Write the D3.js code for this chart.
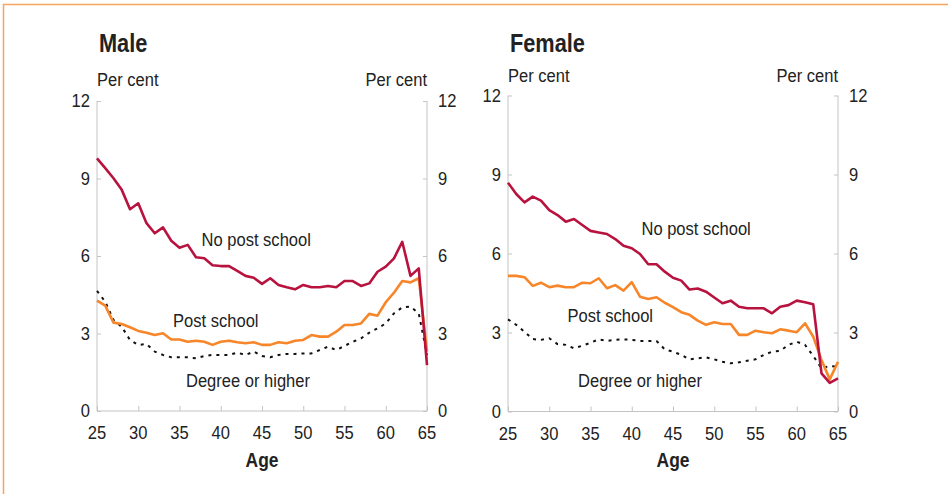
<!DOCTYPE html>
<html>
<head>
<meta charset="utf-8">
<script src="https://cdn.jsdelivr.net/npm/d3@7"></script>
<style>
  body { margin: 0; background: #fff; }
  svg text { font-family: "Liberation Sans", Arial, sans-serif; fill: #222; }
  .tick line, .domain { stroke: #c4c4c4; }
</style>
</head>
<body>
<div id="chart"></div>
<script>
// ages on the x axis
var ages = d3.range(25, 66);
var yTicks = [0, 3, 6, 9, 12];
var xTicks = [25, 30, 35, 40, 45, 50, 55, 60, 65];

// Male, per cent
var maleNoPost = [9.78, 9.40, 9.01, 8.56, 7.81, 8.04, 7.27, 6.88, 7.11, 6.59, 6.32, 6.43, 5.95, 5.91, 5.64,
  5.61, 5.61, 5.42, 5.23, 5.16, 4.92, 5.14, 4.88, 4.79, 4.71, 4.88, 4.79, 4.79, 4.84, 4.79,
  5.03, 5.03, 4.84, 4.94, 5.39, 5.59, 5.91, 6.55, 5.23, 5.52, 1.78];
var malePost = [4.27, 4.08, 3.42, 3.37, 3.24, 3.10, 3.03, 2.94, 3.01, 2.77, 2.77, 2.68, 2.72, 2.68, 2.56,
  2.68, 2.72, 2.66, 2.62, 2.66, 2.56, 2.56, 2.66, 2.62, 2.72, 2.75, 2.94, 2.88, 2.88, 3.07,
  3.33, 3.33, 3.39, 3.76, 3.69, 4.21, 4.58, 5.03, 4.98, 5.14, 2.30];
var maleDegree = [4.65, 4.23, 3.52, 3.26, 2.75, 2.56, 2.59, 2.30, 2.17, 2.08, 2.08, 2.08, 2.04, 2.13, 2.17,
  2.17, 2.17, 2.26, 2.17, 2.30, 2.13, 2.08, 2.17, 2.21, 2.21, 2.23, 2.23, 2.36, 2.49, 2.36,
  2.52, 2.68, 2.81, 3.03, 3.20, 3.39, 3.78, 4.01, 4.04, 3.78, 2.17];

// Female, per cent
var femaleNoPost = [8.69, 8.26, 7.94, 8.16, 8.01, 7.65, 7.46, 7.21, 7.31, 7.08, 6.86, 6.80, 6.74, 6.55, 6.29,
  6.20, 5.98, 5.59, 5.59, 5.31, 5.08, 4.97, 4.63, 4.67, 4.55, 4.33, 4.11, 4.21, 3.98, 3.92,
  3.92, 3.92, 3.73, 3.98, 4.04, 4.21, 4.15, 4.07, 1.45, 1.09, 1.26];
var femalePost = [5.15, 5.15, 5.10, 4.77, 4.89, 4.72, 4.78, 4.72, 4.72, 4.89, 4.87, 5.06, 4.68, 4.80, 4.59,
  4.91, 4.36, 4.27, 4.34, 4.13, 3.96, 3.77, 3.67, 3.45, 3.29, 3.39, 3.32, 3.32, 2.91, 2.91,
  3.07, 3.01, 2.97, 3.12, 3.07, 3.01, 3.35, 2.84, 1.96, 1.22, 1.89];
var femaleDegree = [3.50, 3.29, 3.03, 2.75, 2.72, 2.78, 2.56, 2.53, 2.40, 2.50, 2.61, 2.74, 2.68, 2.72, 2.74,
  2.72, 2.68, 2.68, 2.68, 2.36, 2.27, 2.15, 1.98, 2.02, 2.06, 1.98, 1.89, 1.83, 1.87, 1.93,
  1.98, 2.15, 2.27, 2.30, 2.53, 2.65, 2.53, 2.11, 1.64, 1.73, 1.70];

var seriesNames = ["No post school", "Post school", "Degree or higher"];

var width = 948, height = 494;

var svg = d3.select("#chart").append("svg")
    .attr("width", width)
    .attr("height", height);

// orange frame, top and left only
svg.append("path")
    .attr("d", "M3.5,494V4.5H948")
    .attr("fill", "none")
    .attr("stroke", "#f7a45e")
    .attr("stroke-width", 1.5);

var colors = ["#b8123f", "#f7862a", "#111"];

// the original uses a condensed face, so squeeze the text a bit
function addText(g, x, y, str, size, anchor, bold) {
    return g.append("text")
        .attr("transform", `translate(${x},${y}) scale(0.87,1)`)
        .attr("text-anchor", anchor || "start")
        .attr("font-size", size)
        .attr("font-weight", bold ? "bold" : null)
        .attr("fill", bold ? "#000" : null)
        .text(str);
}

function drawPanel(opt) {
    var x = d3.scaleLinear().domain([25, 65]).range([opt.left, opt.right]);
    var y = d3.scaleLinear().domain([0, 12]).range([opt.bottom, opt.top]);
    var g = svg.append("g");

    // axes
    g.append("g")
        .attr("transform", `translate(0,${opt.bottom})`)
        .call(d3.axisTop(x).tickValues(xTicks).tickSize(5).tickFormat(""))
        .call(a => a.select(".domain").attr("d", `M${opt.left},0H${opt.right}`));
    g.append("g")
        .attr("transform", `translate(${opt.left},0)`)
        .call(d3.axisRight(y).tickValues(yTicks).tickSize(4).tickFormat(""))
        .call(a => a.select(".domain").attr("d", `M0,${opt.top}V${opt.bottom}`));
    g.append("g")
        .attr("transform", `translate(${opt.right},0)`)
        .call(d3.axisLeft(y).tickValues(yTicks).tickSize(4).tickFormat(""))
        .call(a => a.select(".domain").attr("d", `M0,${opt.top}V${opt.bottom}`));

    // tick labels
    yTicks.forEach(function(d) {
        addText(g, opt.left - 7, y(d) + 6, d, 19, "end");
        addText(g, opt.right + 11, y(d) + 6, d, 19, "start");
    });
    xTicks.forEach(function(d) {
        addText(g, x(d), opt.bottom + 28, d, 19, "middle");
    });

    // titles
    addText(g, opt.left + 2, 51.5, opt.title, 25, "start", true);
    addText(g, opt.left, opt.perY, "Per cent", 19, "start");
    addText(g, opt.right, opt.perY, "Per cent", 19, "end");
    addText(g, (opt.left + opt.right) / 2, 467, "Age", 20, "middle", true);

    var line = d3.line().x((d, i) => x(ages[i])).y(d => y(d));

    // dotted degree line first, then post school, then no post school
    [2, 1, 0].forEach(function(k) {
        var path = g.append("path")
            .datum(opt.series[k])
            .attr("d", line)
            .attr("fill", "none")
            .attr("stroke", colors[k])
            .attr("stroke-linejoin", "round");
        if (k === 2) {
            path.attr("stroke-width", 2).attr("stroke-dasharray", "3,5");
        } else {
            path.attr("stroke-width", 2.6);
        }
    });

    // series labels
    opt.labels.forEach(function(l, k) {
        addText(g, x(l[0]), y(l[1]), seriesNames[k], 19, "middle");
    });
}

drawPanel({
    title: "Male",
    left: 97, right: 427, top: 101, bottom: 411, perY: 86,
    series: [maleNoPost, malePost, maleDegree],
    labels: [[44.3, 6.39], [39.4, 3.25], [43.3, 0.93]]
});

drawPanel({
    title: "Female",
    left: 508, right: 838, top: 95.5, bottom: 411.5, perY: 82,
    series: [femaleNoPost, femalePost, femaleDegree],
    labels: [[47.8, 6.70], [37.4, 3.40], [41.0, 0.93]]
});
</script>
</body>
</html>
